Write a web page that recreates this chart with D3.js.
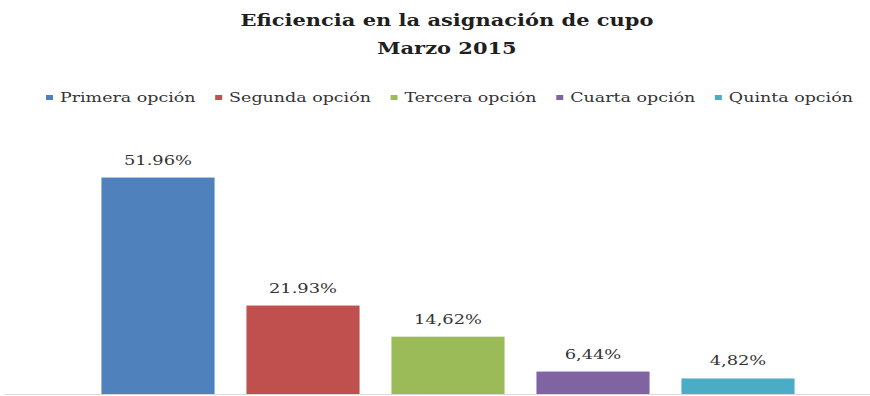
<!DOCTYPE html>
<html><head><meta charset="utf-8">
<script src="https://cdn.jsdelivr.net/npm/d3@7"></script>
<style>body{margin:0;background:#fff}svg{display:block}</style>
</head><body>
<svg id="c" width="870" height="396"></svg>
<script>
const categories = ["Primera opción","Segunda opción","Tercera opción","Cuarta opción","Quinta opción"];
const values = [51.96, 21.93, 14.62, 6.44, 4.82];
const valueLabels = ["51.96%","21.93%","14,62%","6,44%","4,82%"];
const colors = ["#4F81BD","#C0504D","#9BBB59","#8064A2","#4BACC6"];
const titleLines = ["Eficiencia en la asignación de cupo","Marzo 2015"];

const W=870,H=396;
const svg=d3.select("#c");
svg.append("rect").attr("width",W).attr("height",H).attr("fill","#fff");
const serif="'DejaVu Serif', 'Liberation Serif', serif";

// title
const t1=svg.append("text").attr("x",447).attr("y",26).attr("text-anchor","middle")
  .attr("font-family",serif).attr("font-weight","bold").attr("font-size",17).attr("fill","#1f1f1f").text(titleLines[0]);
const n1=t1.node().getComputedTextLength();
const tsx=413/n1;
t1.attr("textLength",413).attr("lengthAdjust","spacingAndGlyphs");
const t2=svg.append("text").attr("x",447).attr("y",54).attr("text-anchor","middle")
  .attr("font-family",serif).attr("font-weight","bold").attr("font-size",17).attr("fill","#1f1f1f").text(titleLines[1]);
const n2=t2.node().getComputedTextLength();
t2.attr("textLength",n2*tsx).attr("lengthAdjust","spacingAndGlyphs");

// legend
const lg=svg.append("g");
let lx=0;
categories.forEach((c,i)=>{
  lg.append("rect").attr("x",lx).attr("y",-3).attr("width",5).attr("height",5).attr("fill",colors[i]);
  const tx=lg.append("text").attr("x",lx+10).attr("y",4).attr("font-family",serif).attr("font-size",12.5).attr("fill","#333").text(c);
  lx+=10+tx.node().getComputedTextLength()+14;
});
const lw=lx-14;
lg.attr("transform",`translate(46,98) scale(${807/lw},1)`);

// scales
const x=d3.scaleBand().domain(categories).range([85.5,810.5]).paddingInner(0.22).paddingOuter(0.11);
const y=d3.scaleLinear().domain([0,60]).range([399,399-4.262*60]);
const axisY=394;

svg.selectAll("rect.bar").data(values).join("rect").attr("class","bar")
  .attr("x",(d,i)=>x(categories[i])).attr("width",x.bandwidth())
  .attr("y",d=>y(d)).attr("height",d=>axisY-y(d)).attr("fill",(d,i)=>colors[i]);

svg.append("line").attr("x1",5).attr("x2",W).attr("y1",axisY+0.5).attr("y2",axisY+0.5).attr("stroke","#d9d9d9");

const labs=svg.selectAll("text.lab").data(values).join("text").attr("class","lab")
  .attr("text-anchor","middle").attr("font-family",serif).attr("font-size",12.5).attr("fill","#333")
  .attr("x",(d,i)=>x(categories[i])+x.bandwidth()/2).attr("y",d=>y(d)-13).text((d,i)=>valueLabels[i]);
const ln=labs.nodes()[0].getComputedTextLength();
const lsx=68/ln;
labs.each(function(){const n=this.getComputedTextLength();d3.select(this).attr("textLength",n*lsx).attr("lengthAdjust","spacingAndGlyphs");});
</script>
</body></html>
